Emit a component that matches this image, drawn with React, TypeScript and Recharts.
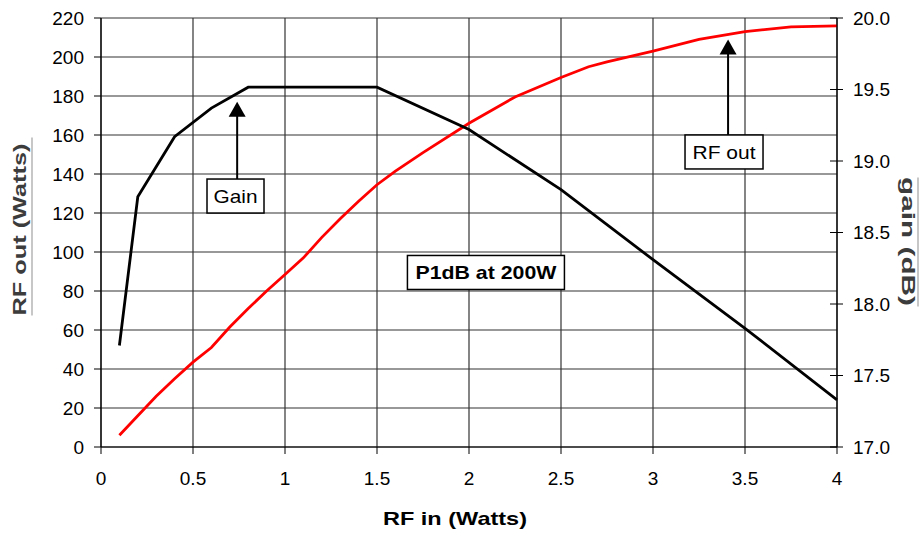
import React from "react";
import {
  LineChart,
  Line,
  XAxis,
  YAxis,
  CartesianGrid,
  ReferenceDot,
  ReferenceLine,
} from "recharts";

const FONT = "'Liberation Sans', Arial, Helvetica, sans-serif";

// RF out (Watts) vs RF in (Watts), left axis
const RF_IN = [0.1, 0.15, 0.2, 0.3, 0.4, 0.5, 0.6, 0.7, 0.8, 0.9, 1.0, 1.1, 1.2, 1.3, 1.4, 1.5, 1.6, 1.75, 2.0, 2.25, 2.5, 2.65, 2.75, 3.0, 3.25, 3.5, 3.75, 4.0];
const RF_OUT = [6, 11, 16, 26, 35, 43.5, 51, 61.5, 71, 80, 88.5, 97, 107.5, 117, 126, 134.5, 141.5, 151, 166, 179.5, 189.5, 195, 197.5, 203, 209, 213, 215.5, 216];

// gain (dB) vs RF in (Watts), right axis
const GAIN_IN = [0.1, 0.2, 0.4, 0.6, 0.8, 1.5, 2.0, 2.5, 3.0, 3.5, 4.0];
const GAIN_DB = [17.71, 18.75, 19.17, 19.37, 19.516, 19.516, 19.22, 18.8, 18.31, 17.83, 17.33];

const X_TICKS = [0, 0.5, 1, 1.5, 2, 2.5, 3, 3.5, 4];
const LEFT_TICKS = [0, 20, 40, 60, 80, 100, 120, 140, 160, 180, 200, 220];
const RIGHT_TICKS = [17, 17.5, 18, 18.5, 19, 19.5, 20];

const rfData = RF_IN.map((x, i) => ({ x, rfOut: RF_OUT[i] }));
const gainData = GAIN_IN.map((x, i) => ({ x, gain: GAIN_DB[i] }));

function RightTick(props: any) {
  const { x, y, payload } = props;
  return (
    <g>
      <line x1={x - 7} x2={x + 6} y1={y} y2={y} stroke="#000" strokeWidth={1} />
      <text x={x + 16} y={y} dy="0.36em" textAnchor="start" fontSize={19} fontFamily={FONT} fill="#000">
        {Number(payload.value).toFixed(1)}
      </text>
    </g>
  );
}

function boxShape(text: string, w: number, len: number, bold: boolean) {
  return (props: any) => {
    const { cx, cy } = props;
    return (
      <g>
        <rect x={cx - w / 2} y={cy - 17} width={w} height={34} fill="#fff" stroke="#000" strokeWidth={1.5} />
        <text
          x={cx}
          y={cy}
          dy="0.36em"
          textAnchor="middle"
          fontSize={19}
          fontWeight={bold ? "bold" : "normal"}
          fontFamily={FONT}
          fill="#000"
          textLength={len}
          lengthAdjust="spacingAndGlyphs"
        >
          {text}
        </text>
      </g>
    );
  };
}

function arrowHead(props: any) {
  const { cx, cy } = props;
  return <polygon points={`${cx},${cy} ${cx - 8.5},${cy + 15} ${cx + 8.5},${cy + 15}`} fill="#000" />;
}

export default function App() {
  return (
    <div style={{ position: "absolute", left: 0, top: 0, width: 922, height: 533, background: "#fff" }}>
      <LineChart width={922} height={533} margin={{ top: 18, right: 0, bottom: 0, left: 0 }}>
        <CartesianGrid yAxisId="left" stroke="#333" strokeWidth={1.2} />
        <XAxis
          dataKey="x"
          type="number"
          domain={[0, 4]}
          ticks={X_TICKS}
          height={86}
          allowDuplicatedCategory={false}
          axisLine={{ stroke: "#000", strokeWidth: 1.2 }}
          tickLine={{ stroke: "#000" }}
          tickSize={7}
          tickMargin={18}
          tick={{ fontSize: 19, fontFamily: FONT, fill: "#000" }}
          label={{
            content: (p: any) => {
              const vb = p.viewBox;
              return (
                <text
                  x={vb.x + vb.width / 2 - 14}
                  y={518}
                  dy="0.36em"
                  textAnchor="middle"
                  fontSize={19}
                  fontWeight="bold"
                  fontFamily={FONT}
                  fill="#000"
                  textLength={144}
                  lengthAdjust="spacingAndGlyphs"
                >
                  RF in (Watts)
                </text>
              );
            },
          }}
        />
        <YAxis
          yAxisId="left"
          orientation="left"
          domain={[0, 220]}
          ticks={LEFT_TICKS}
          width={101}
          axisLine={{ stroke: "#000", strokeWidth: 1.2 }}
          tickLine={{ stroke: "#000" }}
          tickSize={7}
          tickMargin={10}
          tick={{ fontSize: 19, fontFamily: FONT, fill: "#000" }}
          label={{
            content: (p: any) => {
              const vb = p.viewBox;
              const cx = 20;
              const cy = vb.y + vb.height / 2 - 3;
              return (
                <g>
                  <line x1={32} x2={32} y1={cy - 92} y2={cy + 86} stroke="#b5b5b5" strokeWidth={1.5} />
                  <text
                    x={cx}
                    y={cy}
                    dy="0.36em"
                    transform={`rotate(-90 ${cx} ${cy})`}
                    textAnchor="middle"
                    fontSize={18}
                    fontWeight="bold"
                    fontFamily={FONT}
                    fill="#3c3c3c"
                    textLength={172}
                    lengthAdjust="spacingAndGlyphs"
                  >
                    RF out (Watts)
                  </text>
                </g>
              );
            },
          }}
        />
        <YAxis
          yAxisId="right"
          orientation="right"
          domain={[17, 20]}
          ticks={RIGHT_TICKS}
          width={85}
          axisLine={{ stroke: "#000", strokeWidth: 1.2 }}
          tickLine={false}
          tickSize={0}
          tickMargin={0}
          tick={<RightTick />}
          label={{
            content: (p: any) => {
              const vb = p.viewBox;
              const cx = 908;
              const cy = vb.y + vb.height / 2 + 9;
              return (
                <g>
                  <line x1={918} x2={918} y1={cy - 64} y2={cy + 65} stroke="#b5b5b5" strokeWidth={1.5} />
                  <text
                    x={cx}
                    y={cy}
                    dy="0.36em"
                    transform={`rotate(90 ${cx} ${cy})`}
                    textAnchor="middle"
                    fontSize={18}
                    fontWeight="bold"
                    fontFamily={FONT}
                    fill="#3c3c3c"
                    textLength={129}
                    lengthAdjust="spacingAndGlyphs"
                  >
                    gain (dB)
                  </text>
                </g>
              );
            },
          }}
        />
        <Line
          yAxisId="left"
          data={rfData}
          dataKey="rfOut"
          type="linear"
          stroke="#ff0000"
          strokeWidth={2.8}
          dot={false}
          activeDot={false}
          isAnimationActive={false}
        />
        <Line
          yAxisId="right"
          data={gainData}
          dataKey="gain"
          type="linear"
          stroke="#000"
          strokeWidth={2.8}
          dot={false}
          activeDot={false}
          isAnimationActive={false}
        />
        {/* Gain callout */}
        <ReferenceLine
          yAxisId="left"
          segment={[{ x: 0.74, y: 137 }, { x: 0.74, y: 170 }]}
          stroke="#000"
          strokeWidth={2}
        />
        <ReferenceDot yAxisId="left" x={0.74} y={177} r={1} shape={arrowHead} />
        <ReferenceDot yAxisId="left" x={0.731} y={128.7} r={1} shape={boxShape("Gain", 57, 44, false)} />
        {/* RF out callout */}
        <ReferenceLine
          yAxisId="left"
          segment={[{ x: 3.408, y: 160 }, { x: 3.408, y: 202 }]}
          stroke="#000"
          strokeWidth={2}
        />
        <ReferenceDot yAxisId="left" x={3.408} y={209} r={1} shape={arrowHead} />
        <ReferenceDot yAxisId="left" x={3.386} y={151.3} r={1} shape={boxShape("RF out", 78, 63, false)} />
        {/* P1dB note */}
        <ReferenceDot yAxisId="left" x={2.092} y={89.5} r={1} shape={boxShape("P1dB at 200W", 157, 141, true)} />
      </LineChart>
    </div>
  );
}
